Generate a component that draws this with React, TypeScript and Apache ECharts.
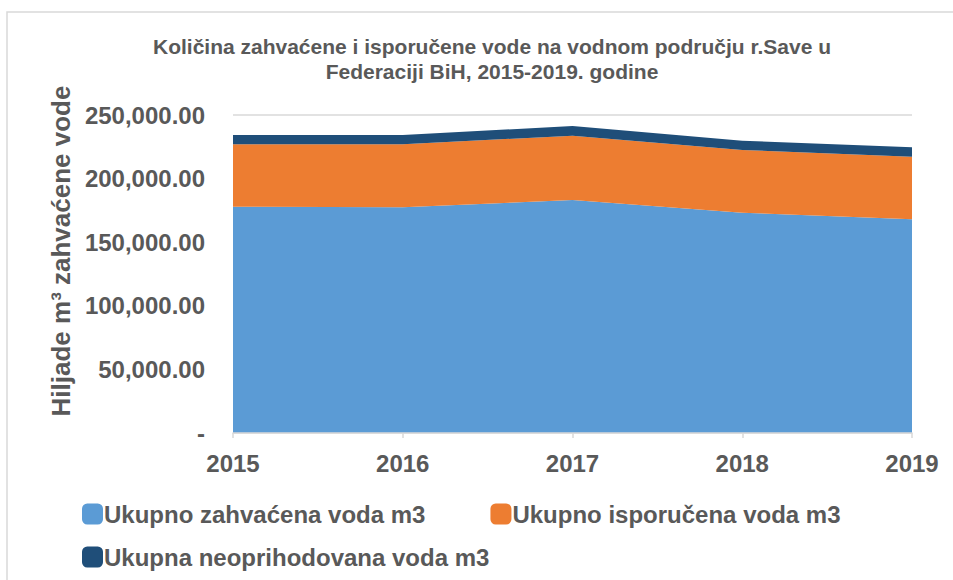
import React, { useEffect, useRef } from "react";
import * as echarts from "echarts";

const years = ["2015", "2016", "2017", "2018", "2019"];
const seriesNames = [
  "Ukupno zahvaćena voda m3",
  "Ukupno isporučena voda m3",
  "Ukupna neoprihodovana voda m3",
];
const zahvacena = [177900, 177500, 183200, 173200, 168000];
const isporucena = [49100, 49500, 50500, 49300, 49200];
const neoprihodovana = [7300, 7300, 7600, 7300, 7400];
const colors = ["#5B9BD5", "#ED7D31", "#1F4E79"];

const titleText =
  "Količina zahvaćene i isporučene vode na vodnom području r.Save u\nFederaciji BiH, 2015-2019. godine";
const yAxisName = "Hiljade m³ zahvaćene vode";

const FONT = "'Liberation Sans', Arial, sans-serif";
const TXT = "#595959";

function fmt(v: number): string {
  if (v === 0) return "-";
  return v.toLocaleString("en-US", { minimumFractionDigits: 2, maximumFractionDigits: 2 });
}

export default function App() {
  const ref = useRef<HTMLDivElement>(null);
  useEffect(() => {
    if (!ref.current) return;
    const chart = echarts.init(ref.current, null, { renderer: "svg" });
    const data = [zahvacena, isporucena, neoprihodovana];
    const legendText = {
      fontFamily: FONT,
      fontSize: 24,
      fontWeight: "bold",
      color: TXT,
      padding: [0, 0, 0, -4],
    };
    chart.setOption({
      animation: false,
      backgroundColor: "#ffffff",
      textStyle: { fontFamily: FONT },
      graphic: [
        {
          type: "rect",
          shape: { x: 7, y: 12, width: 1000, height: 700 },
          style: { fill: "none", stroke: "#d9d9d9", lineWidth: 1.5 },
          silent: true,
        },
      ],
      title: {
        text: titleText,
        left: 487,
        top: 29,
        textAlign: "center",
        textStyle: {
          fontFamily: FONT,
          fontSize: 21,
          fontWeight: "bold",
          color: TXT,
          lineHeight: 25,
        },
      },
      legend: [
        {
          data: [seriesNames[0], seriesNames[1]],
          left: 82,
          top: 502,
          padding: 0,
          itemWidth: 21,
          itemHeight: 21,
          itemGap: 65,
          icon: "roundRect",
          textStyle: legendText,
        },
        {
          data: [seriesNames[2]],
          left: 82,
          top: 545,
          padding: 0,
          itemWidth: 21,
          itemHeight: 21,
          icon: "roundRect",
          textStyle: legendText,
        },
      ],
      grid: { left: 233, right: 41, top: 115, bottom: 147, containLabel: false },
      xAxis: {
        type: "category",
        data: years,
        boundaryGap: false,
        axisLine: { show: true, lineStyle: { color: "#d9d9d9", width: 1.5 } },
        axisTick: { show: true, length: 5, lineStyle: { color: "#d9d9d9", width: 1.5 } },
        axisLabel: {
          fontFamily: FONT,
          fontSize: 24,
          fontWeight: "bold",
          color: TXT,
          margin: 18,
        },
        z: 10,
      },
      yAxis: {
        type: "value",
        min: 0,
        max: 250000,
        interval: 50000,
        name: yAxisName,
        nameLocation: "middle",
        nameGap: 150,
        nameRotate: 90,
        nameTextStyle: {
          fontFamily: FONT,
          fontSize: 26,
          fontWeight: "bold",
          color: TXT,
          padding: [0, 0, 0, 46],
        },
        axisLine: { show: false },
        axisTick: { show: false },
        splitLine: { show: true, lineStyle: { color: "#d9d9d9", width: 1.5 } },
        axisLabel: {
          formatter: (v: number) => fmt(v),
          fontFamily: FONT,
          fontSize: 24,
          fontWeight: "bold",
          color: TXT,
          margin: 28,
        },
      },
      series: data.map((d, i) => ({
        name: seriesNames[i],
        type: "line",
        stack: "total",
        data: d,
        symbol: "none",
        lineStyle: { width: 0 },
        areaStyle: { color: colors[i], opacity: 1 },
        itemStyle: { color: colors[i] },
        z: 2,
      })),
    });
    return () => chart.dispose();
  }, []);
  return (
    <div
      ref={ref}
      style={{ position: "fixed", left: 0, top: 0, width: 953, height: 580 }}
    />
  );
}
